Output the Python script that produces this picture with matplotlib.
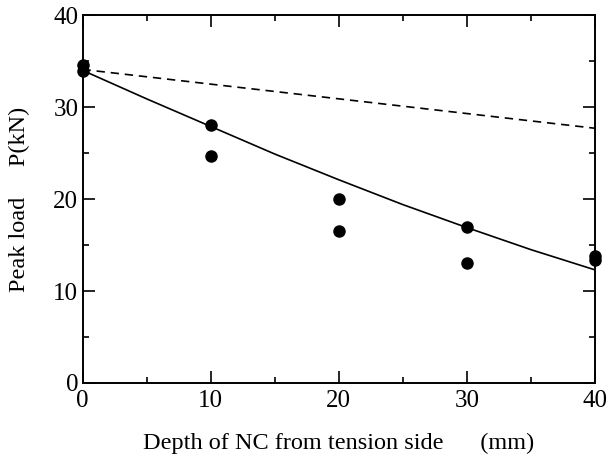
import matplotlib.pyplot as plt
from matplotlib.ticker import MultipleLocator

plt.rcParams['font.family'] = ['Liberation Serif', 'DejaVu Serif']

# 実験値
depth = [0, 0, 10, 10, 20, 20, 30, 30, 40, 40]
peak_load = [34.6, 33.9, 28.0, 24.7, 20.0, 16.5, 17.0, 13.1, 13.8, 13.4]

# 解析曲線（実線）
curve_x = [0, 5, 10, 15, 20, 25, 30, 35, 40]
curve_y = [34.0, 30.9, 27.9, 24.9, 22.1, 19.4, 16.9, 14.5, 12.3]

# 破線
dash_x = [0, 40]
dash_y = [34.1, 27.7]

fig = plt.figure(figsize=(6.09, 4.59), dpi=100)
ax = fig.add_axes([0.1355, 0.1656, 0.977 - 0.1355, 0.967 - 0.1656])

ax.plot(curve_x, curve_y, color='black', lw=1.2)
ax.plot(dash_x, dash_y, color='black', lw=1.2, linestyle=(0, (5, 3.5)))
ax.plot(depth, peak_load, 'o', color='black', markersize=8, clip_on=False, zorder=5)

ax.set_xlim(0, 40)
ax.set_ylim(0, 40)
ax.xaxis.set_major_locator(MultipleLocator(10))
ax.xaxis.set_minor_locator(MultipleLocator(5))
ax.yaxis.set_major_locator(MultipleLocator(10))
ax.yaxis.set_minor_locator(MultipleLocator(5))

ax.tick_params(which='both', direction='in', top=True, right=True, width=1.2, labelsize=18)
ax.tick_params(which='major', length=8.5, pad=3)
ax.tick_params(which='minor', length=4.5)
ax.tick_params(axis='x', which='major', pad=5)
for s in ax.spines.values():
    s.set_linewidth(1.4)

ax.set_xlabel('Depth of NC from tension side      (mm)', fontsize=17.5, labelpad=15)
ax.set_ylabel('Peak load     P(kN)', fontsize=17.5, labelpad=17)

fig.savefig('out.png', dpi=100)
